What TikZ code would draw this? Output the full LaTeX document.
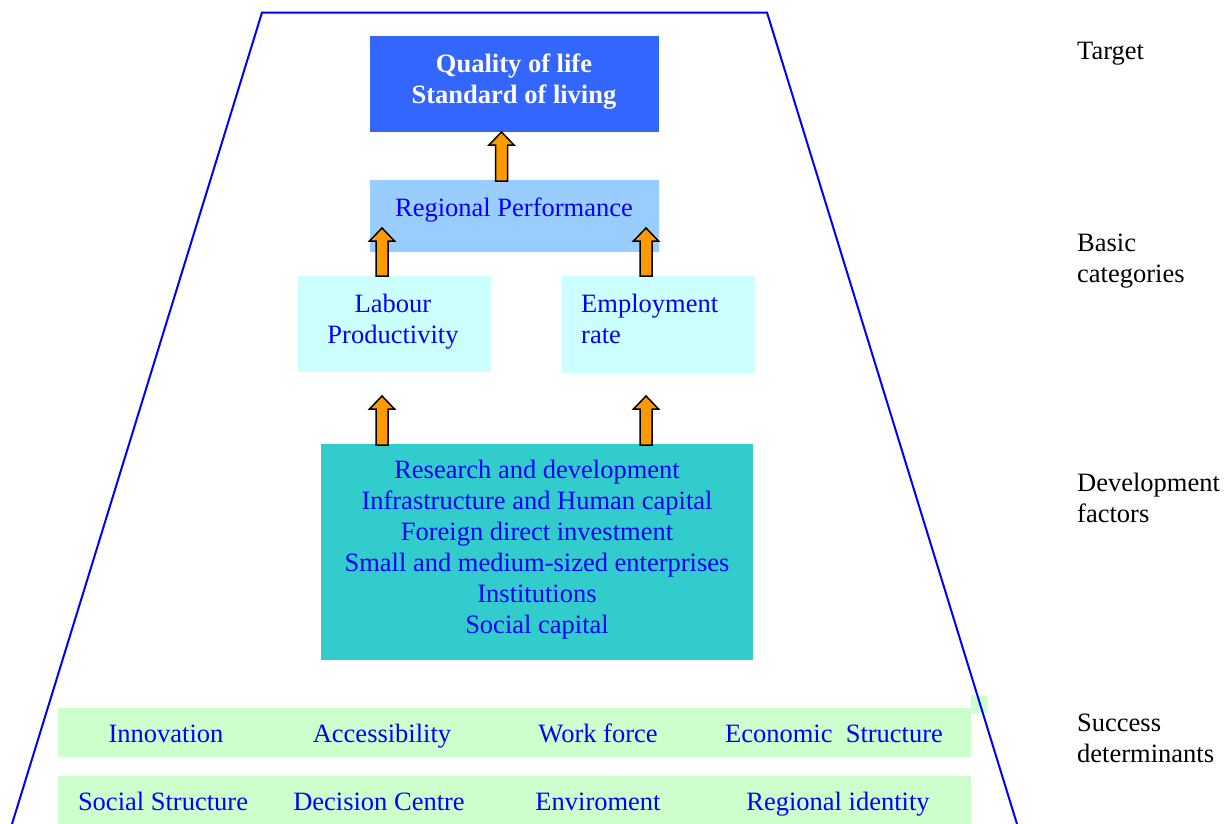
\documentclass[tikz,border=0pt]{standalone}
\usepackage{fontspec}
\setmainfont{Liberation Serif}
\definecolor{topblue}{HTML}{3366FF}
\definecolor{skyblue}{HTML}{99CCFF}
\definecolor{palecyan}{HTML}{CCFFFF}
\definecolor{teal}{HTML}{33CCCC}
\definecolor{palegreen}{HTML}{CCFFCC}
\definecolor{arroworange}{HTML}{FF9900}
\definecolor{textblue}{HTML}{0000FF}
% upward block arrow: base-centre coordinate, total length
\newcommand\blockup[2]{%
  \draw[blockarrow] (#1) ++(-6,0) -- ++(0,{-(#2-13)}) -- ++(-6.5,0)
    -- ++(12.5,-13) -- ++(12.5,13) -- ++(-6.5,0) -- ++(0,{#2-13}) -- cycle;}
\begin{document}
\begin{tikzpicture}[x=1pt,y=-1pt,
  panel/.style={draw=none, inner sep=0pt, outer sep=0pt, anchor=north west},
  lbl/.style={inner sep=0pt, anchor=base, text=textblue,
    font=\fontsize{26.5}{31}\selectfont, align=center},
  side/.style={inner sep=0pt, anchor=base west, text=black,
    font=\fontsize{26.5}{31}\selectfont, align=left},
  blockarrow/.style={draw=black, line width=1.5pt, fill=arroworange, line join=miter},
  frame/.style={draw=textblue, line width=2pt, line join=miter}]
\useasboundingbox (0,0) rectangle (1231,823);

% coloured panels
\node[panel, fill=topblue, minimum width=289pt, minimum height=96pt] (target) at (370,36) {};
\node[panel, fill=skyblue, minimum width=289pt, minimum height=72pt] (perf) at (370,180) {};
\node[panel, fill=palecyan, minimum width=193pt, minimum height=96pt] (labour) at (298,276) {};
\node[panel, fill=palecyan, minimum width=193pt, minimum height=97pt] (employ) at (562,276) {};
\node[panel, fill=teal, minimum width=432pt, minimum height=216pt] (factors) at (321,444) {};
\node[panel, fill=palegreen, minimum width=16pt, minimum height=17pt] (edge) at (971,696) {};
\node[panel, fill=palegreen, minimum width=913pt, minimum height=49pt] (rowa) at (58,708) {};
\node[panel, fill=palegreen, minimum width=913pt, minimum height=48pt] (rowb) at (58,776) {};

% panel texts (multi-line nodes sit on the baseline of their last line)
\node[lbl, text=white, font=\fontsize{26.5}{31}\selectfont\bfseries] (targettxt) at (514,103)
  {Quality of life\\Standard of living};
\node[lbl] (perftxt) at (514,216) {Regional Performance};
\node[lbl] (labourtxt) at (393,343) {Labour\\Productivity};
\node[lbl, anchor=base west, align=left] (employtxt) at (581,343) {Employment\\rate};
\node[lbl] (factorstxt) at (537,633) {Research and development\\Infrastructure and Human capital\\
  Foreign direct investment\\Small and medium-sized enterprises\\Institutions\\Social capital};

\node[lbl] (innov) at (166,742.5) {Innovation};
\node[lbl] (access) at (382,742.5) {Accessibility};
\node[lbl] (work) at (598,742.5) {Work force};
\node[lbl] (econ) at (834,742.5) {Economic\ \ Structure};
\node[lbl] (social) at (163,810.5) {Social Structure};
\node[lbl] (decision) at (379,810.5) {Decision Centre};
\node[lbl] (envir) at (598,810.5) {Enviroment};
\node[lbl] (identity) at (838,810.5) {Regional identity};

% level labels
\node[side] (lvtarget) at (1077,59) {Target};
\node[side] (lvbasic) at (1077,282) {Basic\\categories};
\node[side] (lvfactors) at (1077,522) {Development\\factors};
\node[side] (lvsuccess) at (1077,762) {Success\\determinants};

% block arrows
\coordinate (a1) at (501.5,181);
\coordinate (a2) at (382,276);
\coordinate (a3) at (646,276);
\coordinate (a4) at (382,445);
\coordinate (a5) at (646,445);
\blockup{a1}{49}
\blockup{a2}{48}
\blockup{a3}{48}
\blockup{a4}{49}
\blockup{a5}{49}

% pyramid outline
\coordinate (fbl) at (12,824);
\coordinate (ftl) at (262,12.5);
\coordinate (ftr) at (767,12.5);
\coordinate (fbr) at (1017,824);
\draw[frame] (fbl) -- (ftl) -- (ftr) -- (fbr);
\end{tikzpicture}
\end{document}
